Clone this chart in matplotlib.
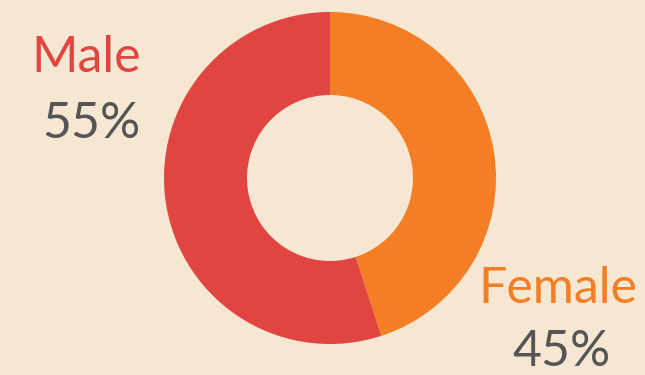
import matplotlib
matplotlib.use("Agg")
import matplotlib.pyplot as plt

# data
labels = ["Female", "Male"]
shares = [45, 55]
colors = ["#F47E24", "#E04541"]

BG = "#F5E7D2"
PCT_COLOR = "#555555"

W, H = 645, 375

fig = plt.figure(figsize=(W / 100, H / 100), dpi=100, facecolor=BG)
ax = fig.add_axes([0, 0, 1, 1])
ax.set_facecolor(BG)

# y axis inverted below, so clockwise on screen means counterclock in data
ax.pie(
    shares,
    colors=colors,
    startangle=-90,
    counterclock=True,
    center=(330, 178),
    radius=166,
    wedgeprops=dict(width=83, linewidth=0),
    frame=True,
)
ax.set_xlim(0, W)
ax.set_ylim(H, 0)
ax.set_aspect("equal")
ax.axis("off")

font = "Lato"

# labels: (x, baseline y)
ax.text(86, 72, labels[1], color=colors[1], fontsize=36, family=font,
        ha="center", va="baseline")
ax.text(91, 138, f"{shares[1]}%", color=PCT_COLOR, fontsize=36, family=font,
        ha="center", va="baseline")
ax.text(558, 303, labels[0], color=colors[0], fontsize=36, family=font,
        ha="center", va="baseline")
ax.text(562, 366, f"{shares[0]}%", color=PCT_COLOR, fontsize=36, family=font,
        ha="center", va="baseline")

fig.savefig("out.png", dpi=100, facecolor=BG)
